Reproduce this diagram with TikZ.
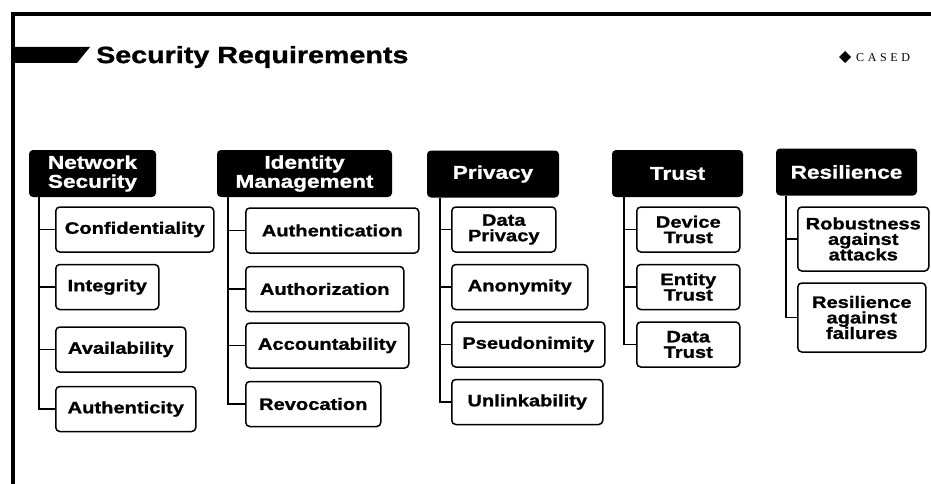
\documentclass[tikz,border=0pt]{standalone}
\usepackage{fontspec}
\setmainfont{Liberation Sans}[FakeStretch=1.22,BoldFeatures={FakeBold=1.2}]
\newfontfamily\logofont{Liberation Serif}[LetterSpace=30]
\usepackage{tikz}

\begin{document}
\begin{tikzpicture}[x=1pt,y=-1pt,
    head/.style={rectangle,rounded corners=4pt,fill=black,text=white,
      align=center,inner sep=0pt,minimum height=47pt,
      font=\fontsize{18.5}{19}\selectfont\bfseries},
    item/.style={rectangle,rounded corners=4pt,draw,line width=1.5pt,
      align=center,inner sep=0pt,anchor=west,
      font=\fontsize{16.5}{15.5}\selectfont\bfseries},
    link/.style={line width=1.5pt}]

    \useasboundingbox (0,0) rectangle (931,484);

    %==================== Frame and title ====================
    \draw[line width=4pt] (13,484) -- (13,14) -- (931,14);
    \fill (13,47) -- (90,47) -- (77,63) -- (13,63) -- cycle;
    \node[anchor=west,inner sep=0pt,font=\fontsize{23.5}{23.5}\selectfont\bfseries]
      (title) at (96,57) {Security Requirements};

    % Logo
    \fill (839,57) -- (845,51) -- (851,57) -- (845,63) -- cycle;
    \node[anchor=west,inner sep=0pt,font=\logofont\fontsize{12}{12}\selectfont]
      (logo) at (856,57.5) {CASED};

    %==================== Network Security ====================
    \begin{scope}
      \def\xl{55}
      \node[head,minimum width=127pt] (ns) at (92.5,173.5) {Network\\Security};
      \coordinate (nsbar) at (ns.south -| 39,0);

      % Items
      \foreach \i/\y/\w/\t in {1/229.5/158/Confidentiality,2/287/103/Integrity,
          3/349.5/130/Availability,4/409/140/Authenticity} {
        \node[item,minimum width=\w pt,minimum height=45pt] (ns\i) at (\xl,\y) {\t};
      }

      % Links
      \draw[link] (nsbar) |- (ns4.west);
      \foreach \i in {1,...,3} {
        \draw[link] (ns\i.west) -- (ns\i.west -| nsbar);
      }
    \end{scope}

    %==================== Identity Management ====================
    \begin{scope}
      \def\xl{245}
      \node[head,minimum width=175pt] (im) at (304.5,173.5) {Identity\\Management};
      \coordinate (imbar) at (im.south -| 228,0);

      % Items
      \foreach \i/\y/\w/\t in {1/230.5/173/Authentication,2/289/158/Authorization,
          3/345.5/163/Accountability,4/404/135/Revocation} {
        \node[item,minimum width=\w pt,minimum height=45pt] (im\i) at (\xl,\y) {\t};
      }

      % Links
      \draw[link] (imbar) |- (im4.west);
      \foreach \i in {1,...,3} {
        \draw[link] (im\i.west) -- (im\i.west -| imbar);
      }
    \end{scope}

    %==================== Privacy ====================
    \begin{scope}
      \def\xl{451}
      \node[head,minimum width=132pt] (pr) at (493,174) {Privacy};
      \coordinate (prbar) at (pr.south -| 440,0);

      % Items
      \foreach \i/\y/\w/\t in {1/229.5/104/{Data\\Privacy},2/287/136/Anonymity,
          3/344.5/153/Pseudonimity,4/402/151/Unlinkability} {
        \node[item,minimum width=\w pt,minimum height=45pt] (pr\i) at (\xl,\y) {\t};
      }

      % Links
      \draw[link] (prbar) |- (pr4.west);
      \foreach \i in {1,...,3} {
        \draw[link] (pr\i.west) -- (pr\i.west -| prbar);
      }
    \end{scope}

    %==================== Trust ====================
    \begin{scope}
      \def\xl{636}
      \node[head,minimum width=131pt] (tr) at (677.5,173.5) {Trust};
      \coordinate (trbar) at (tr.south -| 624,0);

      % Items
      \foreach \i/\y/\t in {1/229.5/{Device\\Trust},2/287/{Entity\\Trust},
          3/344.5/{Data\\Trust}} {
        \node[item,minimum width=103pt,minimum height=45pt] (tr\i) at (\xl,\y) {\t};
      }

      % Links
      \draw[link] (trbar) |- (tr3.west);
      \foreach \i in {1,2} {
        \draw[link] (tr\i.west) -- (tr\i.west -| trbar);
      }
    \end{scope}

    %==================== Resilience ====================
    \begin{scope}
      \def\xl{797}
      \node[head,minimum width=141pt] (re) at (846.5,172) {Resilience};
      \coordinate (rebar) at (re.south -| 786,0);

      % Items
      \foreach \i/\y/\w/\h/\t in {1/239/131/64/{Robustness\\against\\attacks},
          2/317.5/128/69/{Resilience\\against\\failures}} {
        \node[item,minimum width=\w pt,minimum height=\h pt] (re\i) at (\xl,\y) {\t};
      }

      % Links
      \draw[link] (rebar) |- (re2.west);
      \draw[link] (re1.west) -- (re1.west -| rebar);
    \end{scope}

\end{tikzpicture}
\end{document}
